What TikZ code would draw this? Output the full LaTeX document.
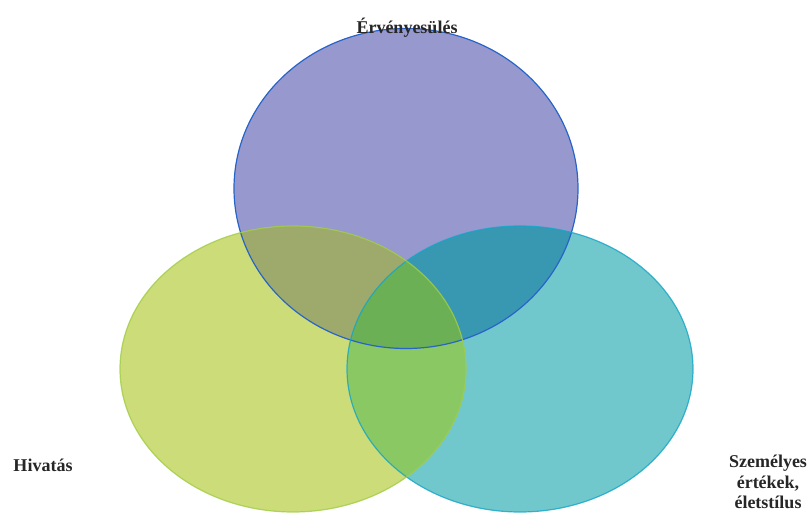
\documentclass[tikz,border=0pt]{standalone}
\usepackage{fontspec}
\setmainfont{Liberation Serif}
\begin{document}
\begin{tikzpicture}[x=1pt,y=1pt,
  lbl/.style={font=\bfseries\fontsize{18}{20.5}\selectfont, text=black!85, inner sep=0pt, align=center}]
\definecolor{cTop}{RGB}{150,152,206}
\definecolor{cLeft}{RGB}{204,220,120}
\definecolor{cRight}{RGB}{112,200,204}
\definecolor{cTL}{RGB}{158,170,108}
\definecolor{cTR}{RGB}{56,152,178}
\definecolor{cLR}{RGB}{138,200,100}
\definecolor{cAll}{RGB}{108,176,86}
\definecolor{eTop}{RGB}{40,100,200}
\definecolor{eLeft}{RGB}{160,205,70}
\definecolor{eRight}{RGB}{20,165,200}
\useasboundingbox (0,0) rectangle (812,-519);
\def\topE{(406,-188.5) ellipse [x radius=172, y radius=160]}
\def\leftE{(293,-369) ellipse [x radius=173, y radius=143]}
\def\rightE{(520,-369) ellipse [x radius=173, y radius=143]}
% base fills
\fill[cTop] \topE;
\fill[cLeft] \leftE;
\fill[cRight] \rightE;
% pairwise overlaps
\begin{scope}\clip \topE; \fill[cTL] \leftE; \end{scope}
\begin{scope}\clip \topE; \fill[cTR] \rightE; \end{scope}
\begin{scope}\clip \leftE; \fill[cLR] \rightE; \end{scope}
\begin{scope}\clip \topE; \clip \leftE; \fill[cAll] \rightE; \end{scope}
% outlines
\draw[eTop, line width=1.2pt] \topE;
\draw[eRight, line width=1.2pt, opacity=0.8] \rightE;
\draw[eLeft, line width=1.2pt, opacity=0.8] \leftE;
% labels
\node[lbl] (top) at (407,-28) {Érvényesülés};
\node[lbl] (hiv) at (43,-465) {Hivatás};
\node[lbl] (sz) at (768,-482) {Személyes\\értékek,\\életstílus};
\end{tikzpicture}
\end{document}
